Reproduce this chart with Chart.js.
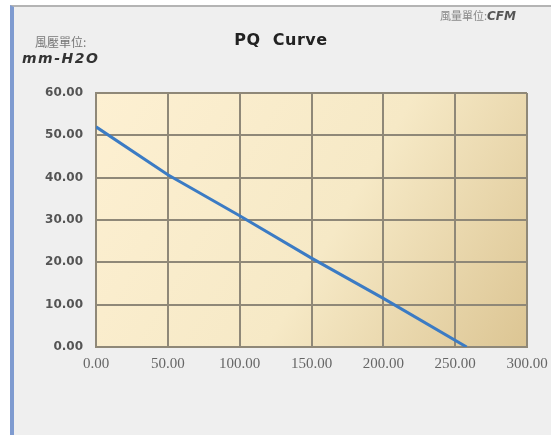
<!DOCTYPE html>
<html>
<head>
<meta charset="utf-8">
<script src="https://cdn.jsdelivr.net/npm/chart.js@4/dist/chart.umd.min.js"></script>
<style>
  html, body { margin: 0; padding: 0; background: #ffffff; }
  body { width: 551px; height: 436px; position: relative; overflow: hidden; }
  #panel {
    position: absolute; left: 10px; top: 5px; width: 545px; height: 428px;
    background: #efefef; border-left: 4px solid #7f9bd0; border-top: 2px solid #b4b4b4;
  }
  #wrap { position: absolute; left: 0; top: 0; width: 551px; height: 436px; }
  .lbl { position: absolute; white-space: nowrap; }
  #title { left: 0; width: 562px; top: 30px; text-align: center; font: bold 16px "DejaVu Sans", sans-serif; color: #222; letter-spacing: 0.5px; }
  #yunit { left: 35px; top: 33px; font: 12px "Noto Sans CJK TC", serif; color: #777; }
  #yunit2 { left: 22px; top: 50px; font: italic 14px "DejaVu Sans", sans-serif; color: #333; letter-spacing: 1.5px; font-weight: 600; }
  #xunit { left: 440px; top: 7px; font: 11px "Noto Sans CJK TC", serif; color: #888; }
  #xunit b { font: italic bold 12px "DejaVu Sans", sans-serif; color: #555; }
</style>
</head>
<body>
<div id="panel"></div>
<div id="wrap"><canvas id="pq"></canvas></div>
<div class="lbl" id="title">PQ&nbsp; Curve</div>
<div class="lbl" id="yunit">風壓單位:</div>
<div class="lbl" id="yunit2">mm-H2O</div>
<div class="lbl" id="xunit">風量單位:<b>CFM</b></div>
<script>
// airflow (CFM) and static pressure (mm-H2O)
const flow = [0, 50, 100, 150, 200, 258];
const pressure = [52, 40.7, 31, 21, 11.5, 0];
const xTicks = [0, 50, 100, 150, 200, 250, 300];
const yTicks = [0, 10, 20, 30, 40, 50, 60];

const gridColor = '#8f8878';

const plotBackground = {
  id: 'plotBackground',
  beforeDraw(chart) {
    const { ctx, chartArea: a } = chart;
    const g = ctx.createLinearGradient(a.left, a.top, a.right, a.bottom);
    g.addColorStop(0, '#fdf0d2');
    g.addColorStop(0.55, '#f6e9c6');
    g.addColorStop(1, '#dcc593');
    ctx.save();
    ctx.fillStyle = g;
    ctx.fillRect(a.left, a.top, a.right - a.left, a.bottom - a.top);
    ctx.restore();
  }
};

new Chart(document.getElementById('pq').getContext('2d'), {
  type: 'scatter',
  data: {
    datasets: [{
      label: 'PQ',
      data: flow.map((x, i) => ({ x, y: pressure[i] })),
      showLine: true,
      borderColor: '#3b7bc4',
      borderWidth: 3,
      pointRadius: 0,
      tension: 0
    }]
  },
  options: {
    responsive: true,
    maintainAspectRatio: false,
    animation: false,
    layout: { padding: { top: 93, right: 24, left: 0, bottom: 0 } },
    scales: {
      x: {
        type: 'linear',
        min: 0,
        max: 300,
        afterBuildTicks: (s) => { s.ticks = xTicks.map(v => ({ value: v })); },
        afterFit: (s) => { s.height = 89; s.paddingRight = 0; s.paddingLeft = 0; },
        grid: { color: gridColor, lineWidth: 2, drawTicks: false },
        border: { color: gridColor, width: 2 },
        ticks: {
          padding: 8,
          color: '#666',
          font: { family: '"Liberation Serif", serif', size: 15 },
          maxRotation: 0,
          callback: (v) => v.toFixed(2)
        }
      },
      y: {
        type: 'linear',
        min: 0,
        max: 60,
        afterBuildTicks: (s) => { s.ticks = yTicks.map(v => ({ value: v })); },
        afterFit: (s) => { s.width = 96; },
        grid: { color: gridColor, lineWidth: 2, drawTicks: false },
        border: { color: gridColor, width: 2 },
        ticks: {
          padding: 13,
          color: '#555',
          font: { family: '"DejaVu Sans", sans-serif', size: 12, weight: 'bold' },
          callback: (v) => v.toFixed(2)
        }
      }
    },
    plugins: {
      legend: { display: false },
      tooltip: { enabled: false }
    }
  },
  plugins: [plotBackground]
});
</script>
</body>
</html>
